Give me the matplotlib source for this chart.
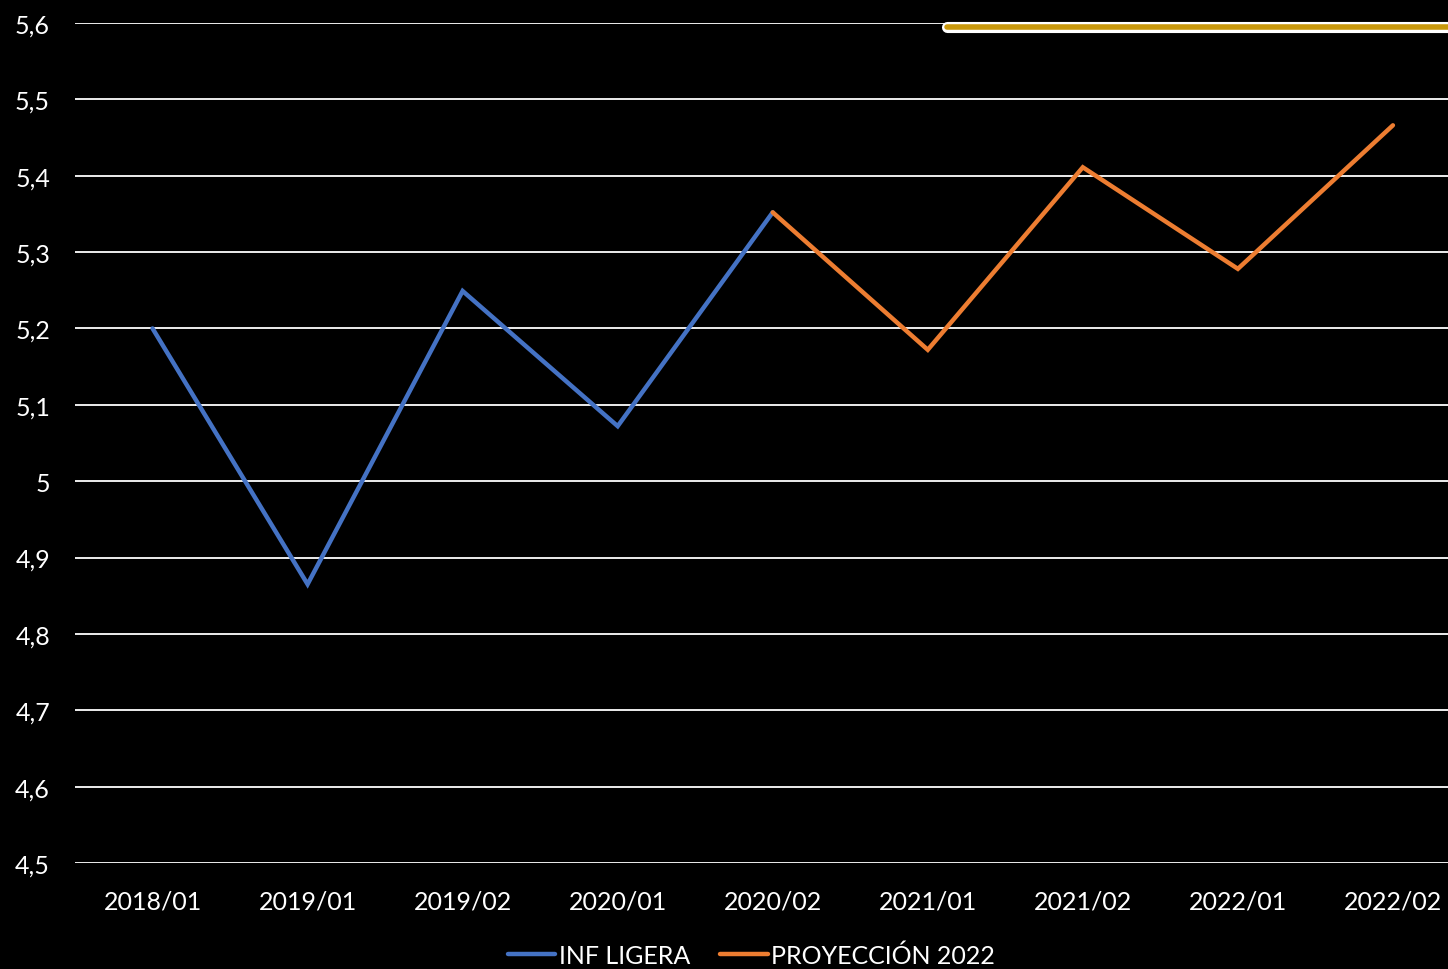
import matplotlib
matplotlib.use("Agg")
import matplotlib.pyplot as plt
import matplotlib.patheffects as pe
from matplotlib.lines import Line2D

# datos
periodos = ['2018/01', '2019/01', '2019/02', '2020/01', '2020/02',
            '2021/01', '2021/02', '2022/01', '2022/02']
inf_ligera = [5.20, 4.865, 5.249, 5.072, 5.352]            # 2018/01 .. 2020/02
proyeccion = [5.352, 5.172, 5.411, 5.278, 5.466]           # 2020/02 .. 2022/02
y_ticks = [4.5, 4.6, 4.7, 4.8, 4.9, 5.0, 5.1, 5.2, 5.3, 5.4, 5.5, 5.6]
y_labels = ['4,5', '4,6', '4,7', '4,8', '4,9', '5', '5,1', '5,2', '5,3', '5,4', '5,5', '5,6']

plt.rcParams['font.family'] = ['Lato', 'DejaVu Sans']

fig = plt.figure(figsize=(14.48, 9.70), dpi=100, facecolor='black')
ax = fig.add_axes([0.0518, 0.1093, 0.9637, 0.866])
ax.set_facecolor('black')

x1 = list(range(0, 5))
x2 = list(range(4, 9))
ax.plot(x1, inf_ligera, color='#4472C4', lw=3.2, solid_capstyle='round',
        solid_joinstyle='miter', label='INF LIGERA', zorder=3)
ax.plot(x2, proyeccion, color='#ED7D31', lw=3.2, solid_capstyle='round',
        solid_joinstyle='miter', label='PROYECCIÓN 2022', zorder=3)

ax.set_xlim(-0.5, 8.5)
ax.set_ylim(4.5, 5.6)
ax.set_xticks(range(len(periodos)))
ax.set_xticklabels(periodos)
ax.set_yticks(y_ticks)
ax.set_yticklabels(y_labels)
ax.tick_params(axis='both', length=0, colors='white', labelsize=18)
ax.tick_params(axis='x', pad=19)
ax.tick_params(axis='y', pad=18)
ax.grid(axis='y', color='white', lw=1.3)
ax.set_axisbelow(True)
for s in ax.spines.values():
    s.set_visible(False)

leg = fig.legend(loc='center', bbox_to_anchor=(0.519, 0.014), ncol=2, frameon=False,
                 fontsize=18, handlelength=1.9, handletextpad=0.15, columnspacing=1.2,
                 labelcolor='white')
for h in leg.legend_handles:
    h.set_solid_capstyle('round')

# barra decorativa dorada arriba a la derecha
barra = Line2D([0.654, 1.01], [0.971, 0.971], transform=fig.transFigure,
               color='#C9980B', lw=4, solid_capstyle='round',
               path_effects=[pe.Stroke(linewidth=8, foreground='white'), pe.Normal()])
fig.add_artist(barra)

fig.savefig('out.png', dpi=100, facecolor='black')
